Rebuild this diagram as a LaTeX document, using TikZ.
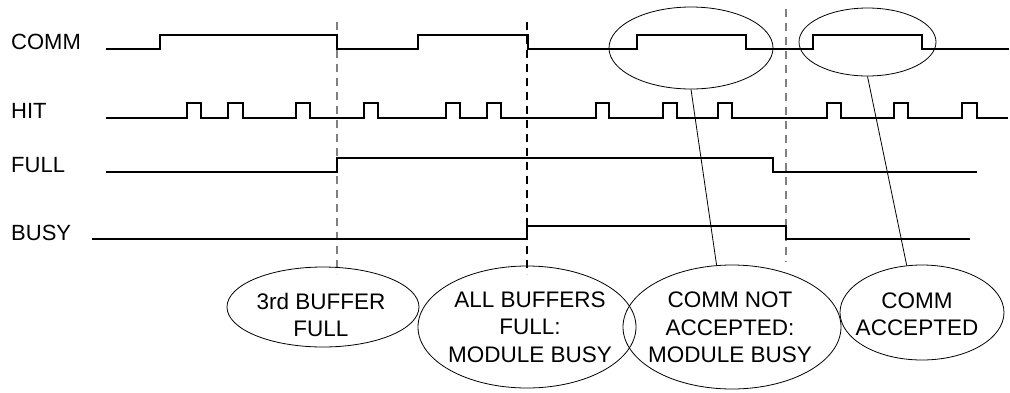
\documentclass[tikz,border=0pt]{standalone}
\usepackage{fontspec}
\setmainfont{Liberation Sans}
\usetikzlibrary{shapes.geometric}
\begin{document}
\begin{tikzpicture}[x=1pt,y=-1pt,
  signal/.style={line width=2pt, line join=miter},
  marker/.style={dash pattern=on 8pt off 6pt, line width=1.2pt},
  graymarker/.style={marker, draw=black!50},
  sig label/.style={anchor=base west, inner sep=0pt, font=\fontsize{22}{26}\selectfont},
  oval/.style={ellipse, draw, line width=0.8pt, inner sep=0pt},
  note/.style={align=center, inner sep=0pt, font=\fontsize{22.5}{27.3}\selectfont},
  link/.style={line width=0.8pt}]
\useasboundingbox (0,0) rectangle (1010,392);

% signal names
\node[sig label] (lcomm) at (11,49)  {COMM};
\node[sig label] (lhit)  at (11,118) {HIT};
\node[sig label] (lfull) at (11,172) {FULL};
\node[sig label] (lbusy) at (11,240) {BUSY};

% time markers
\draw[graymarker] (337,22) -- (337,274);
\draw[marker]     (527,22) -- (527,274);
\draw[graymarker] (786,9)  -- (786,262);

% COMM
\draw[signal] (106,49) -- (160,49) -- (160,35) -- (337,35) -- (337,49)
  -- (418,49) -- (418,35) -- (528,35) -- (528,49)
  -- (637,49) -- (637,35) -- (746,35) -- (746,49)
  -- (813,49) -- (813,35) -- (922,35) -- (922,49) -- (1009,49);

% HIT pulses
\draw[signal] (106,118)
  \foreach \a/\b in {187/201,228/243,296/310,364/378,446/460,487/501,
                     596/609,663/677,718/732,827/841,894/908,962/977}
    { -- (\a,118) -- (\a,103) -- (\b,103) -- (\b,118) }
  -- (1008,118);

% FULL
\draw[signal] (106,172) -- (337,172) -- (337,158) -- (773,158) -- (773,172) -- (977,172);

% BUSY
\draw[signal] (92,239) -- (527,239) -- (527,226) -- (786,226) -- (786,239) -- (970,239);

% highlighted COMM pulses
\node[oval, minimum width=164pt, minimum height=82pt] (hiA) at (691,48) {};
\node[oval, minimum width=137pt, minimum height=68pt] (hiB) at (867.5,42) {};

% event notes
\node[oval, minimum width=192pt, minimum height=80pt]  (e1) at (323,307) {};
\node[oval, minimum width=218pt, minimum height=122pt] (e2) at (527,327) {};
\node[oval, minimum width=218pt, minimum height=124pt] (e3) at (732,327) {};
\node[oval, minimum width=164pt, minimum height=95pt]  (e4) at (922,312.5) {};

\node[note] (t1) at (321,315)   {3rd BUFFER\\FULL};
\node[note] (t2) at (530,327)   {ALL BUFFERS\\FULL:\\MODULE BUSY};
\node[note] (t3) at (730,327.5) {COMM NOT\\ACCEPTED:\\MODULE BUSY};
\node[note] (t4) at (917,314.5) {COMM\\ACCEPTED};

% callout lines
\draw[link] (hiA.south) -- (e3.104);
\draw[link] (hiB.south) -- (e4.108);
\end{tikzpicture}
\end{document}
